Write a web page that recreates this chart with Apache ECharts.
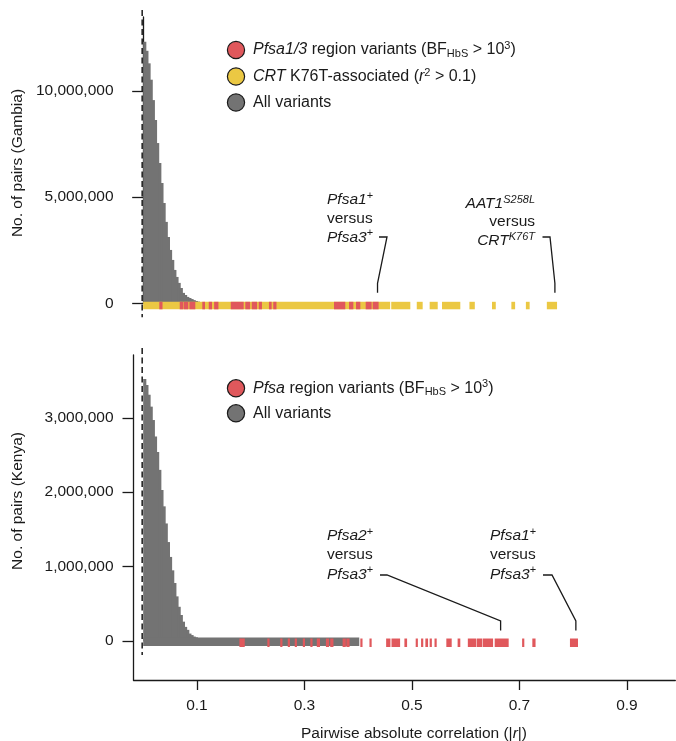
<!DOCTYPE html>
<html>
<head>
<meta charset="utf-8">
<script src="https://cdn.jsdelivr.net/npm/echarts@6/dist/echarts.min.js"></script>
<style>
  html, body { margin: 0; padding: 0; background: #fff; }
  #chart { width: 676px; height: 741px; }
</style>
</head>
<body>
<div id="chart"></div>
<script>
// Histogram bin width in |r|
const BIN_WIDTH = 0.004;

// Pairs per bin (millions), Gambia
const gambiaCounts = [12.30, 11.88, 11.29, 10.52, 9.56, 8.62, 7.54, 6.60, 5.66, 4.72,
  3.83, 3.12, 2.51, 2.04, 1.57, 1.24, 0.96, 0.72, 0.49, 0.39,
  0.30, 0.25, 0.20, 0.15, 0.11, 0.08, 0.06, 0.04, 0.03, 0.02, 0.015, 0.01];

// Pairs per bin (millions), Kenya
const kenyaCounts = [3.52, 3.44, 3.31, 3.15, 2.97, 2.75, 2.54, 2.30, 2.03, 1.81,
  1.58, 1.33, 1.13, 0.95, 0.78, 0.60, 0.46, 0.35, 0.26, 0.19,
  0.15, 0.10, 0.08, 0.06, 0.05, 0.04, 0.03, 0.025, 0.02, 0.015,
  0.012, 0.01, 0.008, 0.006, 0.005, 0.004];

// Rug of individual pairs: [from |r|, to |r|]
const gambiaCrtRug = [[0, 0.4595], [0.4615, 0.497], [0.509, 0.520], [0.533, 0.548],
  [0.556, 0.590], [0.607, 0.617], [0.649, 0.656], [0.685, 0.692], [0.712, 0.719], [0.751, 0.770]];
const gambiaPfsaRug = [[0.030, 0.036], [0.068, 0.075], [0.076, 0.084], [0.086, 0.097],
  [0.110, 0.115], [0.122, 0.128], [0.132, 0.140], [0.163, 0.187], [0.190, 0.199],
  [0.202, 0.212], [0.215, 0.221], [0.234, 0.239], [0.242, 0.248], [0.355, 0.376],
  [0.383, 0.391], [0.396, 0.404], [0.414, 0.425], [0.427, 0.438]];
const kenyaAllRug = [[0, 0.402]];
const kenyaPfsaRug = [[0.179, 0.189], [0.231, 0.235], [0.255, 0.259], [0.269, 0.273],
  [0.282, 0.286], [0.297, 0.301], [0.311, 0.315], [0.323, 0.329], [0.340, 0.346],
  [0.348, 0.354], [0.371, 0.377], [0.378, 0.384], [0.404, 0.408], [0.421, 0.425],
  [0.452, 0.460], [0.462, 0.478], [0.486, 0.491], [0.507, 0.510], [0.517, 0.521],
  [0.525, 0.530], [0.533, 0.537], [0.542, 0.546], [0.564, 0.574], [0.585, 0.590],
  [0.604, 0.620], [0.621, 0.631], [0.632, 0.651], [0.654, 0.680], [0.705, 0.709],
  [0.724, 0.730], [0.794, 0.809]];

// Labelled pairs (|r| of the pair)
const gambiaNotes = [0.436, 0.766];
const kenyaNotes = [0.665, 0.805];

// Axis ticks
const xTicks = [0.1, 0.3, 0.5, 0.7, 0.9];
const gambiaYTicks = [0, 5000000, 10000000];
const kenyaYTicks = [0, 1000000, 2000000, 3000000];

const F = "'Liberation Sans', Arial, Helvetica, sans-serif";
const INK = '#1a1a1a';
const RED = '#e0585c', YELLOW = '#ebc843', GRAY = '#737373';
const FS = 15.5;        // ticks, notes, axis titles
const FS_LEGEND = 16;

function richStyles(size) {
  const s = Math.round(size * 0.68);
  return {
    i: { fontSize: size, fontFamily: F, fontStyle: 'italic', fill: INK },
    sup: { fontSize: s, fontFamily: F, fill: INK, padding: [0, 0, 8, 0] },
    isup: { fontSize: s, fontFamily: F, fontStyle: 'italic', fill: INK, padding: [0, 0, 8, 0] },
    sub: { fontSize: s, fontFamily: F, fill: INK, padding: [7, 0, 0, 0] }
  };
}

function textEl(x, y, text, opts) {
  opts = opts || {};
  const align = opts.align || 'left';
  const valign = opts.valign || 'middle';
  const size = opts.size || FS;
  return {
    type: 'text', x: x, y: y, rotation: opts.rotation || 0, silent: true,
    style: {
      text: text, fontSize: size, fontFamily: F, fill: INK,
      align: align, textAlign: align, verticalAlign: valign, textVerticalAlign: valign,
      lineHeight: opts.lineHeight, rich: richStyles(size)
    }
  };
}

// One histogram bin; bins overlap by a pixel so no seams show between them
function histItem(params, api) {
  const x0 = api.value(0), v = api.value(1);
  const p0 = api.coord([x0, 0]);
  const p1 = api.coord([x0 + BIN_WIDTH, v]);
  return {
    type: 'rect',
    shape: { x: p0[0], y: p1[1], width: p1[0] - p0[0] + 1, height: p0[1] - p1[1] },
    style: { fill: GRAY }
  };
}

function rugRenderer(top, bottom, color) {
  return function (params, api) {
    const a = api.coord([api.value(0), 0]);
    const b = api.coord([api.value(1), 0]);
    return {
      type: 'rect',
      shape: { x: a[0], y: a[1] + top, width: Math.max(b[0] - a[0], 2.2), height: bottom - top },
      style: { fill: color }
    };
  };
}

function zeroLine(params, api) {
  const p = api.coord([0, 0]);
  const cs = params.coordSys;
  return {
    type: 'line',
    shape: { x1: p[0] - 1, y1: cs.y - 7, x2: p[0] - 1, y2: p[1] + 14 },
    style: { stroke: INK, lineWidth: 1.5, lineDash: [6, 3.5] }
  };
}

// Leader + label layouts for the highlighted pairs
const noteLayouts = {
  gambia: [
    { text: '{i|Pfsa1}{sup|+}\nversus\n{i|Pfsa3}{sup|+}', x: 327, y: 190.7, align: 'left', lh: 18.7,
      start: [379, 237], knee: [387, 237] },
    { text: '{i|AAT1}{isup|S258L}\nversus\n{i|CRT}{isup|K76T}', x: 535, y: 194.5, align: 'right', lh: 18.4,
      start: [542.5, 237], knee: [550, 237] }
  ],
  kenya: [
    { text: '{i|Pfsa2}{sup|+}\nversus\n{i|Pfsa3}{sup|+}', x: 327, y: 526, align: 'left', lh: 19.3,
      start: [380, 575], knee: [387, 575] },
    { text: '{i|Pfsa1}{sup|+}\nversus\n{i|Pfsa3}{sup|+}', x: 490, y: 526, align: 'left', lh: 19.3,
      start: [543, 575], knee: [552, 575] }
  ]
};

function noteRenderer(key) {
  return function (params, api) {
    const L = noteLayouts[key][params.dataIndex];
    const p = api.coord([api.value(0), 0]);
    const endY = p[1] - 10.5;
    const bendY = p[1] - 20;
    return {
      type: 'group',
      children: [
        {
          type: 'polyline',
          shape: { points: [L.start, L.knee, [p[0], bendY], [p[0], endY]] },
          style: { stroke: INK, lineWidth: 1.3, fill: null }
        },
        textEl(L.x, L.y, L.text, { align: L.align, valign: 'top', lineHeight: L.lh })
      ]
    };
  };
}

const fmt = v => Math.round(v).toLocaleString('en-US');

const axisLineStyle = { color: INK, width: 1.3 };
const X_MIN = -0.018, X_MAX = 0.99;

const chart = echarts.init(document.getElementById('chart'), null, { renderer: 'canvas' });

const option = {
  animation: false,
  backgroundColor: '#fff',
  grid: [
    { left: 133.5, top: 17, width: 541.8, height: 286.3 },
    { left: 133.5, top: 355, width: 541.8, height: 325 }
  ],
  xAxis: [
    { gridIndex: 0, type: 'value', min: X_MIN, max: X_MAX, show: false },
    {
      gridIndex: 1, type: 'value', min: X_MIN, max: X_MAX,
      axisLine: { show: true, onZero: false, lineStyle: axisLineStyle },
      axisTick: { show: true, length: 10, lineStyle: axisLineStyle, customValues: xTicks },
      axisLabel: {
        show: true, customValues: xTicks, margin: 18, color: INK, fontSize: FS, fontFamily: F,
        formatter: v => v.toFixed(1)
      },
      splitLine: { show: false }
    }
  ],
  yAxis: [
    {
      gridIndex: 0, type: 'value', min: 0, max: 13470000,
      axisLine: { show: true, lineStyle: axisLineStyle },
      axisTick: { show: true, length: 11, lineStyle: axisLineStyle, customValues: gambiaYTicks },
      axisLabel: { customValues: gambiaYTicks, margin: 20, color: INK, fontSize: FS, fontFamily: F, formatter: fmt },
      splitLine: { show: false }
    },
    {
      gridIndex: 1, type: 'value', min: -524000, max: 3844000,
      axisLine: { show: true, onZero: false, lineStyle: axisLineStyle },
      axisTick: { show: true, length: 11, lineStyle: axisLineStyle, customValues: kenyaYTicks },
      axisLabel: { customValues: kenyaYTicks, margin: 20, color: INK, fontSize: FS, fontFamily: F, formatter: fmt },
      splitLine: { show: false }
    }
  ],
  series: [
    // Gambia
    { type: 'custom', xAxisIndex: 0, yAxisIndex: 0, renderItem: histItem,
      data: gambiaCounts.map((c, i) => [i * BIN_WIDTH, c * 1e6]), z: 2 },
    { type: 'custom', xAxisIndex: 0, yAxisIndex: 0, renderItem: rugRenderer(-1.5, 6, YELLOW),
      data: gambiaCrtRug, z: 3 },
    { type: 'custom', xAxisIndex: 0, yAxisIndex: 0, renderItem: rugRenderer(-1.5, 6, RED),
      data: gambiaPfsaRug, z: 4 },
    { type: 'custom', xAxisIndex: 0, yAxisIndex: 0, renderItem: zeroLine, data: [[0, 0]], z: 5 },
    { type: 'custom', xAxisIndex: 0, yAxisIndex: 0, renderItem: noteRenderer('gambia'),
      data: gambiaNotes.map(r => [r, 0]), z: 6 },
    // Kenya
    { type: 'custom', xAxisIndex: 1, yAxisIndex: 1, renderItem: histItem,
      data: kenyaCounts.map((c, i) => [i * BIN_WIDTH, c * 1e6]), z: 2 },
    { type: 'custom', xAxisIndex: 1, yAxisIndex: 1, renderItem: rugRenderer(-3.5, 5, GRAY),
      data: kenyaAllRug, z: 3 },
    { type: 'custom', xAxisIndex: 1, yAxisIndex: 1, renderItem: rugRenderer(-2.5, 6, RED),
      data: kenyaPfsaRug, z: 4 },
    { type: 'custom', xAxisIndex: 1, yAxisIndex: 1, renderItem: zeroLine, data: [[0, 0]], z: 5 },
    { type: 'custom', xAxisIndex: 1, yAxisIndex: 1, renderItem: noteRenderer('kenya'),
      data: kenyaNotes.map(r => [r, 0]), z: 6 }
  ],
  graphic: {
    elements: [
      // legend, Gambia
      { type: 'circle', shape: { cx: 236, cy: 50, r: 8.6 }, style: { fill: RED, stroke: INK, lineWidth: 1.2 } },
      { type: 'circle', shape: { cx: 236, cy: 76.5, r: 8.6 }, style: { fill: YELLOW, stroke: INK, lineWidth: 1.2 } },
      { type: 'circle', shape: { cx: 236, cy: 102.5, r: 8.6 }, style: { fill: GRAY, stroke: INK, lineWidth: 1.2 } },
      textEl(253, 50, '{i|Pfsa1/3} region variants (BF{sub|HbS} > 10{sup|3})', { size: FS_LEGEND }),
      textEl(253, 76.5, '{i|CRT} K76T-associated ({i|r}{sup|2} > 0.1)', { size: FS_LEGEND }),
      textEl(253, 102.5, 'All variants', { size: FS_LEGEND }),
      // legend, Kenya
      { type: 'circle', shape: { cx: 236, cy: 388.3, r: 8.6 }, style: { fill: RED, stroke: INK, lineWidth: 1.2 } },
      { type: 'circle', shape: { cx: 236, cy: 413.3, r: 8.6 }, style: { fill: GRAY, stroke: INK, lineWidth: 1.2 } },
      textEl(253, 388.3, '{i|Pfsa} region variants (BF{sub|HbS} > 10{sup|3})', { size: FS_LEGEND }),
      textEl(253, 413.3, 'All variants', { size: FS_LEGEND }),
      // axis titles
      textEl(18, 163, 'No. of pairs (Gambia)', { align: 'center', rotation: Math.PI / 2 }),
      textEl(18, 501, 'No. of pairs (Kenya)', { align: 'center', rotation: Math.PI / 2 }),
      textEl(414, 734, 'Pairwise absolute correlation (|{i|r}|)', { align: 'center' })
    ]
  }
};

chart.setOption(option);
</script>
</body>
</html>
